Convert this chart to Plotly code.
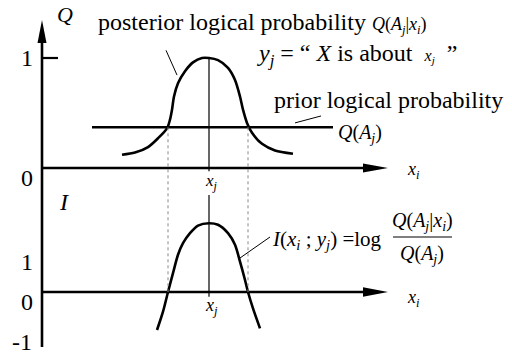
import plotly.graph_objects as go

W, H = 512, 358

# Posterior logical probability Q(A_j|x_i) along x (x_j at 0)
post_x = [-8.7, -7.4, -6.1, -5.1, -4.2, -3.9, -3.7, -3.5, -3.1, -2.4, -1.6, -0.7, 0.0,
          0.9, 1.9, 2.6, 3.1, 3.4, 3.8, 4.3, 5.3, 6.6, 8.4]
post_q = [0.12, 0.14, 0.19, 0.27, 0.36, 0.44, 0.53, 0.65, 0.77, 0.88, 0.96, 1.0, 1.0,
          0.98, 0.91, 0.80, 0.65, 0.53, 0.41, 0.32, 0.22, 0.16, 0.13]

# Prior logical probability Q(A_j), a constant level
prior_x = [-11.7, 12.4]
prior_q = [0.37, 0.37]

# Semantic information I(x_i; y_j) = log Q(A_j|x_i)/Q(A_j)
info_x = [-5.2, -4.6, -4.1, -3.6, -3.1, -2.6, -1.9, -1.1, 0.0, 0.9, 1.9, 2.6, 3.1, 3.6, 3.9, 4.4, 5.1]
info_i = [-0.95, -0.49, 0.0, 0.47, 0.93, 1.22, 1.47, 1.66, 1.72, 1.68, 1.47, 1.18, 0.76, 0.30, 0.0, -0.41, -0.91]

x_j = 0.0
cross_x = [-4.1, 3.9]          # where posterior meets prior (I = 0)

# Axis extents
AX_LEFT, AX_RIGHT = -16.7, 17.9
Q_TOP, Q_BOTTOM = 1.345, -1.627

# Pixel -> axis scales: x: 10 px/unit, Q: 110 px/unit, I: 40 px/unit
x_range = [(0 - 209) / 10, (W - 209) / 10]
q_range = [(168 - H) / 110, 168 / 110]
i_range = [(292 - H) / 40, 292 / 40]

fig = go.Figure()
line_black = dict(color="black", width=2.6)

fig.add_trace(go.Scatter(x=prior_x, y=prior_q, mode="lines", line=line_black, yaxis="y"))
fig.add_trace(go.Scatter(x=post_x, y=post_q, mode="lines", line=dict(color="black", width=2.6, shape="spline", smoothing=0.8), yaxis="y"))
fig.add_trace(go.Scatter(x=info_x, y=info_i, mode="lines", line=dict(color="black", width=2.6, shape="spline", smoothing=0.8), yaxis="y2"))

shapes = []
def seg(x0, y0, x1, y1, yref="y", width=2.6, dash=None, color="black"):
    shapes.append(dict(type="line", xref="x", yref=yref, x0=x0, y0=y0, x1=x1, y1=y1,
                       line=dict(color=color, width=width, dash=dash) if dash else dict(color=color, width=width)))

# Left vertical axis with arrowhead
seg(AX_LEFT, Q_BOTTOM, AX_LEFT, 1.15, width=2.6)
shapes.append(dict(type="path", xref="x", yref="y", fillcolor="black", line=dict(width=0),
                   path=f"M {AX_LEFT-0.45},1.136 L {AX_LEFT},{Q_TOP} L {AX_LEFT+0.45},1.136 Z"))
# Tick at Q = 1
seg(AX_LEFT, 1.0, AX_LEFT + 1.6, 1.0, width=2.2)

# Horizontal axes (Q = 0 and I = 0) with arrowheads
seg(AX_LEFT, 0, 15.6, 0, yref="y")
shapes.append(dict(type="path", xref="x", yref="y", fillcolor="black", line=dict(width=0),
                   path=f"M 15.4,-0.041 L {AX_RIGHT},0 L 15.4,0.041 Z"))
seg(AX_LEFT, 0, 15.6, 0, yref="y2")
shapes.append(dict(type="path", xref="x", yref="y2", fillcolor="black", line=dict(width=0),
                   path=f"M 15.4,-0.12 L {AX_RIGHT},0 L 15.4,0.12 Z"))

# Vertical line through x_j
seg(x_j, 1.0, x_j, -0.03, yref="y", width=1.2)
seg(x_j, (292 - 195) / 40, x_j, -0.12, yref="y2", width=1.2)

# Dotted guides from the crossings down to the I axis
for cx in cross_x:
    shapes.append(dict(type="line", xref="x", yref="y", x0=cx, x1=cx, y0=prior_q[0], y1=(168 - 292) / 110,
                       line=dict(color="#888", width=1, dash="dot")))

# Leader lines to labels
seg(-4.3, 1.07, -3.2, 0.845, yref="y", width=1)
seg(8.6, 0.41, 11.2, 0.473, yref="y", width=1)
seg(3.1, 0.85, 6.1, 1.375, yref="y2", width=1)

# Fraction bar of the formula
shapes.append(dict(type="line", xref="paper", yref="paper", x0=393 / W, x1=452 / W,
                   y0=1 - 237 / H, y1=1 - 237 / H, line=dict(color="black", width=1.2)))

FONT = "'Times New Roman', 'Liberation Serif', 'DejaVu Serif', serif"
annotations = []
def label(text, px, py, size=22, anchor="center"):
    annotations.append(dict(text=text, x=px / W, y=1 - py / H, xref="paper", yref="paper",
                            xanchor=anchor, yanchor="middle", showarrow=False,
                            font=dict(family=FONT, size=size, color="black")))

label("<i>Q</i>", 65, 14, 22)
label("1", 27, 58, 24)
label("0", 27, 178, 24)
label("<i>I</i>", 64, 202, 24)
label("1", 27, 262, 24)
label("0", 27, 302, 24)
label("-1", 22, 342, 24)

label("posterior logical probability <span style='font-size:18px'><i>Q</i>(<i>A<sub>j</sub></i>|<i>x<sub>i</sub></i>)</span>", 96, 23, 24, "left")
label("<i>y<sub>j</sub></i> = “ <i>X</i> is about  <span style='font-size:16px'><i>x<sub>j</sub></i></span>  ”", 255, 55, 24, "left")
label("prior logical probability", 272, 100, 24, "left")
label("<i>Q</i>(<i>A<sub>j</sub></i>)", 336, 133, 20, "left")
label("<i>x<sub>i</sub></i>", 413, 170, 18)
label("<i>x<sub>j</sub></i>", 211, 182, 17)
label("<i>x<sub>i</sub></i>", 413, 298, 18)
label("<i>x<sub>j</sub></i>", 211, 306, 18)
label("<i>I</i>(<i>x<sub>i</sub></i> ; <i>y<sub>j</sub></i>) =log", 270, 240, 21, "left")
label("<i>Q</i>(<i>A<sub>j</sub></i>|<i>x<sub>i</sub></i>)", 422, 221, 20)
label("<i>Q</i>(<i>A<sub>j</sub></i>)", 422, 254, 20)

hidden = dict(visible=False, fixedrange=True)
fig.update_layout(
    width=W, height=H, margin=dict(l=0, r=0, t=0, b=0),
    font=dict(family=FONT),
    paper_bgcolor="white", plot_bgcolor="white", showlegend=False,
    xaxis=dict(range=x_range, domain=[0, 1], **hidden),
    yaxis=dict(range=q_range, domain=[0, 1], **hidden),
    yaxis2=dict(range=i_range, domain=[0, 1], overlaying="y", **hidden),
    shapes=shapes, annotations=annotations,
)

fig.write_html("out.html")
